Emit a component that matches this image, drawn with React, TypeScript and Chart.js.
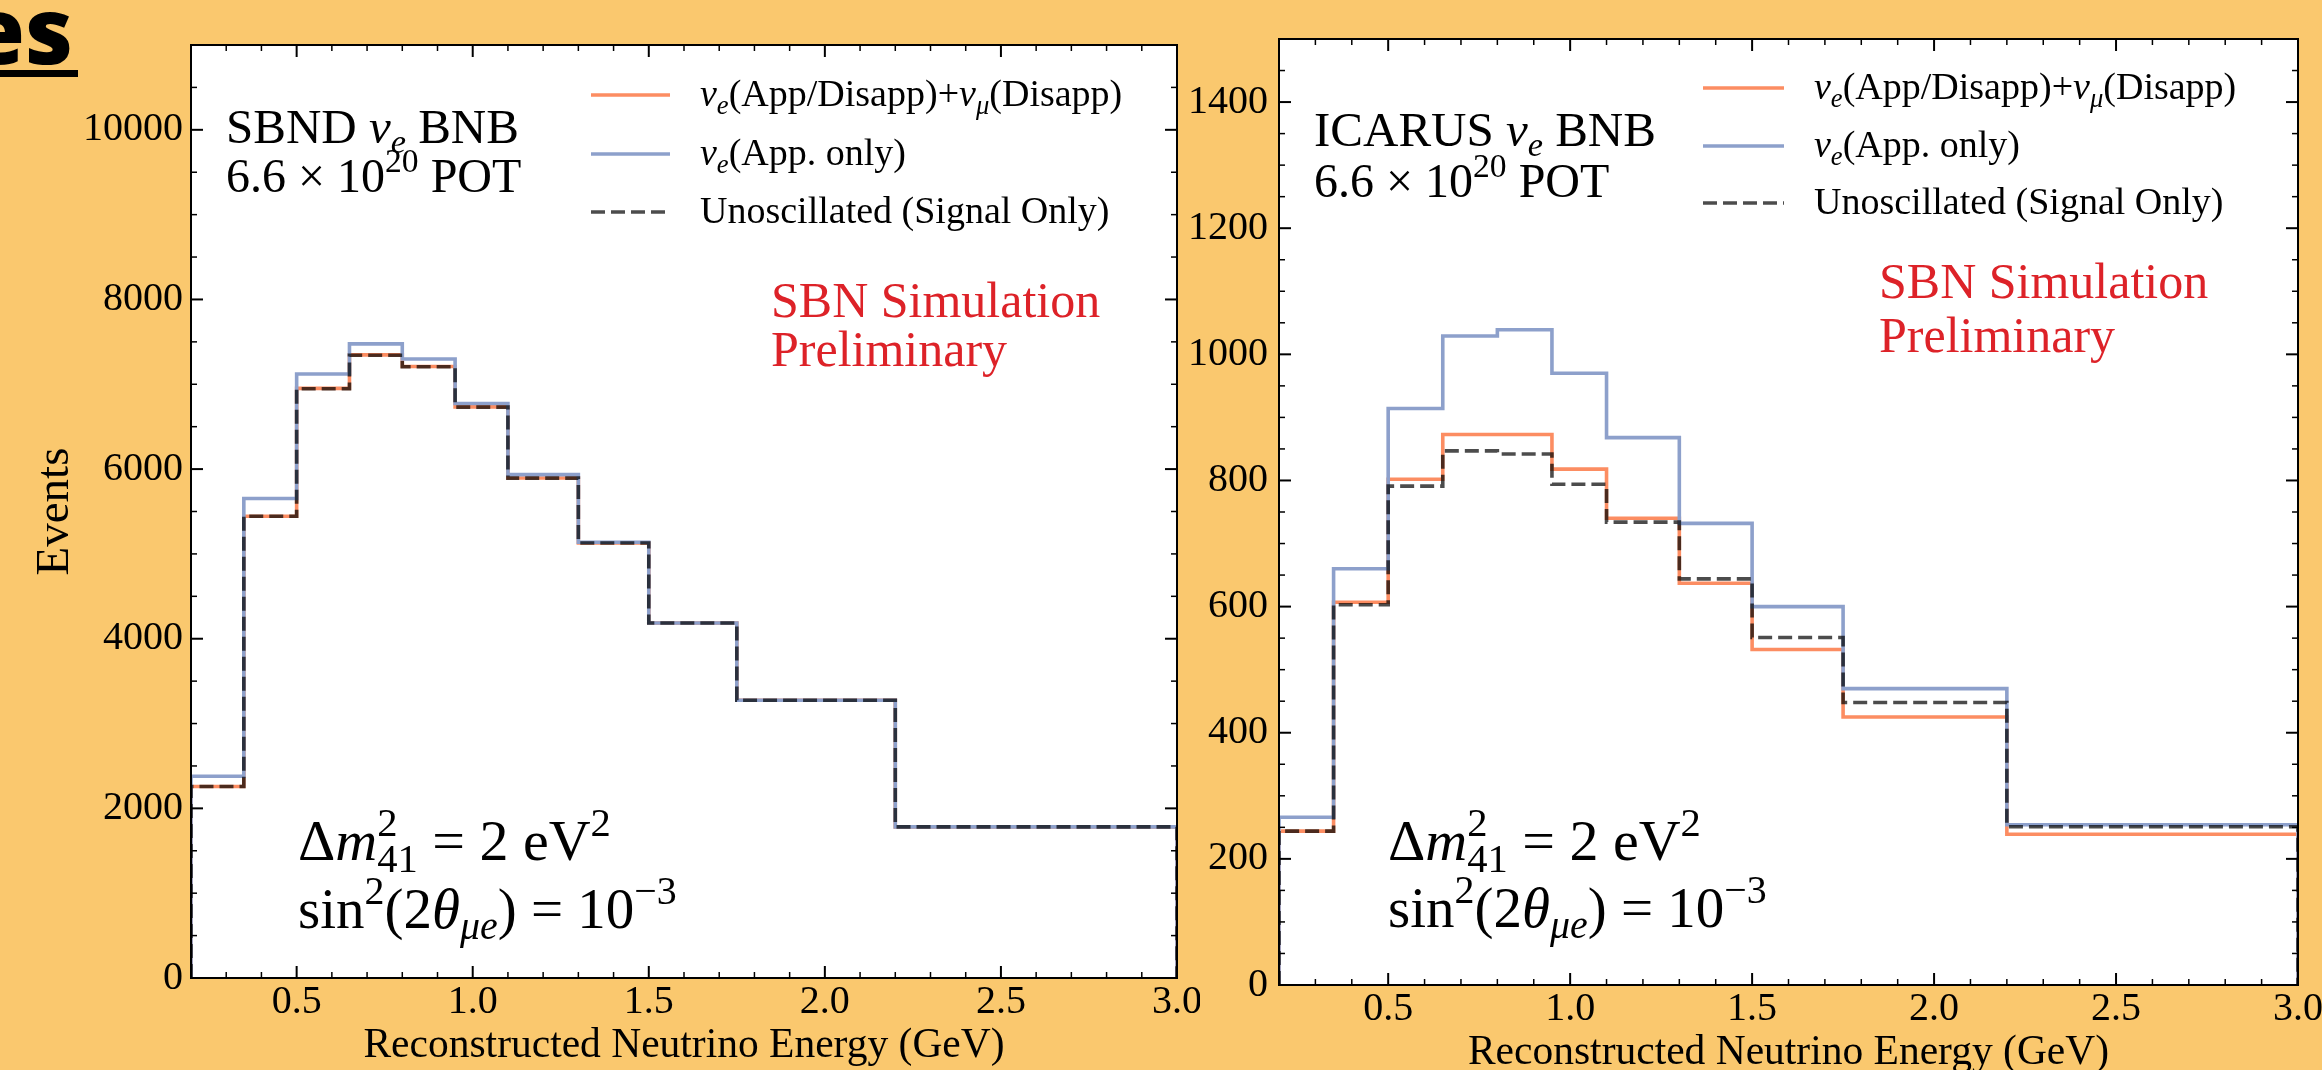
import React, { useEffect, useRef } from "react";
import { Chart, registerables } from "chart.js";

Chart.register(...registerables);

const FONT = '"Liberation Serif", "Times New Roman", serif';

// ---------------- data ----------------
const binEdges = [0.2, 0.35, 0.5, 0.65, 0.8, 0.95, 1.1, 1.3, 1.5, 1.75, 2.2, 3.0];
const energyTicks = [0.5, 1.0, 1.5, 2.0, 2.5, 3.0];
const sbndYTicks = [0, 2000, 4000, 6000, 8000, 10000];
const icarusYTicks = [0, 200, 400, 600, 800, 1000, 1200, 1400];

const seriesLabels = [
  "|ν|_{|e|}(App/Disapp)+|ν|_{|μ|}(Disapp)",
  "|ν|_{|e|}(App. only)",
  "Unoscillated (Signal Only)",
];

const sbndAppDisapp = [2258, 5444, 6952, 7347, 7210, 6734, 5895, 5129, 4185, 3274, 1782];
const sbndAppOnly = [2379, 5653, 7121, 7476, 7298, 6774, 5935, 5137, 4185, 3274, 1782];
const sbndUnosc = [2258, 5444, 6948, 7343, 7207, 6731, 5893, 5128, 4185, 3274, 1782];

const icarusAppDisapp = [244, 607, 802, 873, 873, 818, 740, 637, 532, 425, 239];
const icarusAppOnly = [266, 660, 914, 1029, 1039, 970, 868, 732, 600, 470, 254];
const icarusUnosc = [244, 603, 791, 847, 842, 794, 734, 644, 551, 448, 251];

// ---------------- helpers ----------------
function stepPoints(edges: number[], vals: number[]) {
  const pts = [{ x: edges[0], y: 0 }];
  vals.forEach((v, i) => pts.push({ x: edges[i], y: v }));
  pts.push({ x: edges[edges.length - 1], y: vals[vals.length - 1] });
  pts.push({ x: edges[edges.length - 1], y: 0 });
  return pts;
}

type Seg = { text: string; italic: boolean; level: number };

function parseRich(s: string): Seg[] {
  const segs: Seg[] = [];
  let italic = false;
  let level = 0;
  let buf = "";
  const flush = () => {
    if (buf) segs.push({ text: buf, italic, level });
    buf = "";
  };
  let i = 0;
  while (i < s.length) {
    const c = s[i];
    if ((c === "_" || c === "^") && s[i + 1] === "{") {
      flush();
      level = c === "_" ? -1 : 1;
      i += 2;
      continue;
    }
    if (c === "}" && level !== 0) {
      flush();
      level = 0;
      i++;
      continue;
    }
    if (c === "|") {
      flush();
      italic = !italic;
      i++;
      continue;
    }
    buf += c;
    i++;
  }
  flush();
  return segs;
}

function drawRich(ctx: CanvasRenderingContext2D, markup: string, x: number, y: number, size: number, color: string) {
  const segs = parseRich(markup);
  ctx.save();
  ctx.fillStyle = color;
  ctx.textBaseline = "alphabetic";
  ctx.textAlign = "left";
  let cx = x;
  let prev: Seg | null = null;
  let supStart = 0;
  let supW = 0;
  for (const s of segs) {
    const fs = s.level === 0 ? size : size * 0.7;
    ctx.font = `${s.italic ? "italic " : ""}${fs}px ${FONT}`;
    const w = ctx.measureText(s.text).width;
    const dy = s.level === 1 ? -0.42 * size : s.level === -1 ? 0.2 * size : 0;
    const stacked = s.level === -1 && prev && prev.level === 1;
    const sx = stacked ? supStart : cx;
    ctx.fillText(s.text, sx, y + dy);
    if (s.level === 1) {
      supStart = cx;
      supW = w;
      cx += w;
    } else if (stacked) {
      cx = supStart + Math.max(supW, w);
    } else {
      cx += w;
    }
    prev = s;
  }
  ctx.restore();
}

type Ann = { text: string; dx: number; dy: number; size: number; color?: string };

type PanelCfg = {
  canvasX: number;
  canvasW: number;
  canvasH: number;
  padTop: number;
  padRight: number;
  yAxisW: number;
  xAxisH: number;
  yMax: number;
  yTicks: number[];
  yMinorStep: number;
  yTickPad: number;
  yTitle: string | null;
  xTitlePadBottom: number;
  series: number[][];
  annotations: Ann[];
  legend: { x0: number; x1: number; tx: number; rows: number[]; size: number };
};

const seriesStyles = [
  { color: "#fc8d62", dash: [] as number[], order: 2 },
  { color: "#8da0cb", dash: [] as number[], order: 1 },
  { color: "rgba(0,0,0,0.7)", dash: [14, 6], order: 0 },
];
const LINE_W = 3.6;

function makeDecor(cfg: PanelCfg) {
  return {
    id: "decor",
    beforeDraw(chart: any) {
      const { ctx, chartArea: a } = chart;
      ctx.save();
      ctx.fillStyle = "#ffffff";
      ctx.fillRect(a.left, a.top, a.right - a.left, a.bottom - a.top);
      ctx.restore();
    },
    afterDatasetsDraw(chart: any) {
      const { ctx, chartArea: a } = chart;
      const xs = chart.scales.x;
      const ys = chart.scales.y;
      const MAJ = 12;
      const MIN = 6;
      ctx.save();
      ctx.strokeStyle = "#000";
      const seg = (x1: number, y1: number, x2: number, y2: number) => {
        ctx.beginPath();
        ctx.moveTo(x1, y1);
        ctx.lineTo(x2, y2);
        ctx.stroke();
      };
      // x ticks
      ctx.lineWidth = 2;
      for (const v of energyTicks) {
        const p = xs.getPixelForValue(v);
        seg(p, a.bottom, p, a.bottom - MAJ);
        seg(p, a.top, p, a.top + MAJ);
      }
      ctx.lineWidth = 1.5;
      for (let k = Math.round(xs.min * 10); k <= Math.round(xs.max * 10); k++) {
        if (k % 5 === 0) continue;
        const p = xs.getPixelForValue(k / 10);
        seg(p, a.bottom, p, a.bottom - MIN);
        seg(p, a.top, p, a.top + MIN);
      }
      // y ticks
      ctx.lineWidth = 2;
      for (const v of cfg.yTicks) {
        const p = ys.getPixelForValue(v);
        seg(a.left, p, a.left + MAJ, p);
        seg(a.right, p, a.right - MAJ, p);
      }
      ctx.lineWidth = 1.5;
      const majorStep = cfg.yTicks[1] - cfg.yTicks[0];
      for (let v = 0; v <= ys.max + 1e-9; v += cfg.yMinorStep) {
        if (Math.abs(v / majorStep - Math.round(v / majorStep)) < 1e-6) continue;
        const p = ys.getPixelForValue(v);
        seg(a.left, p, a.left + MIN, p);
        seg(a.right, p, a.right - MIN, p);
      }
      // frame
      ctx.lineWidth = 2;
      ctx.strokeRect(a.left, a.top, a.right - a.left, a.bottom - a.top);
      ctx.restore();
    },
    afterDraw(chart: any) {
      const { ctx, chartArea: a } = chart;
      for (const an of cfg.annotations) {
        drawRich(ctx, an.text, a.left + an.dx, a.top + an.dy, an.size, an.color || "#000");
      }
      const lg = cfg.legend;
      chart.data.datasets.forEach((ds: any, i: number) => {
        const y = a.top + lg.rows[i];
        ctx.save();
        ctx.strokeStyle = ds.borderColor;
        ctx.lineWidth = ds.borderWidth;
        ctx.setLineDash(ds.borderDash || []);
        ctx.beginPath();
        ctx.moveTo(a.left + lg.x0, y);
        ctx.lineTo(a.left + lg.x1, y);
        ctx.stroke();
        ctx.restore();
        drawRich(ctx, ds.label, a.left + lg.tx, y + 0.3 * lg.size, lg.size, "#000");
      });
    },
  };
}

function Panel({ cfg }: { cfg: PanelCfg }) {
  const ref = useRef<HTMLCanvasElement>(null);
  useEffect(() => {
    const canvas = ref.current!;
    const datasets = cfg.series.map((vals, i) => ({
      label: seriesLabels[i],
      data: stepPoints(binEdges, vals),
      borderColor: seriesStyles[i].color,
      borderDash: seriesStyles[i].dash,
      borderWidth: LINE_W,
      order: seriesStyles[i].order,
      stepped: "before" as const,
      pointRadius: 0,
      fill: false,
      tension: 0,
      borderJoinStyle: "miter" as const,
    }));
    const chart = new Chart(canvas, {
      type: "line",
      data: { datasets },
      options: {
        animation: false,
        responsive: false,
        devicePixelRatio: 1,
        layout: { padding: { left: 0, top: cfg.padTop, right: cfg.padRight, bottom: 0 } },
        plugins: { legend: { display: false }, tooltip: { enabled: false } },
        scales: {
          x: {
            type: "linear",
            min: binEdges[0],
            max: binEdges[binEdges.length - 1],
            grid: { display: false, drawTicks: false },
            border: { display: false },
            afterBuildTicks: (s: any) => {
              s.ticks = energyTicks.map((v) => ({ value: v }));
            },
            afterFit: (s: any) => {
              s.height = cfg.xAxisH;
              s.paddingLeft = 0;
              s.paddingRight = 0;
            },
            ticks: {
              color: "#000",
              font: { family: FONT, size: 40 },
              padding: 0,
              maxRotation: 0,
              autoSkip: false,
              callback: (v: any) => Number(v).toFixed(1),
            },
            title: {
              display: true,
              text: "Reconstructed Neutrino Energy (GeV)",
              color: "#000",
              font: { family: FONT, size: 41.5 },
              padding: { top: 0, bottom: cfg.xTitlePadBottom },
            },
          },
          y: {
            type: "linear",
            min: 0,
            max: cfg.yMax,
            grid: { display: false, drawTicks: false },
            border: { display: false },
            afterBuildTicks: (s: any) => {
              s.ticks = cfg.yTicks.map((v) => ({ value: v }));
            },
            afterFit: (s: any) => {
              s.width = cfg.yAxisW;
              s.paddingTop = 0;
              s.paddingBottom = 0;
            },
            ticks: {
              color: "#000",
              font: { family: FONT, size: 40 },
              padding: cfg.yTickPad,
              autoSkip: false,
              callback: (v: any) => String(v),
            },
            title: {
              display: !!cfg.yTitle,
              text: cfg.yTitle || "",
              color: "#000",
              font: { family: FONT, size: 47 },
              padding: { top: 27, bottom: 0 },
            },
          },
        },
      },
      plugins: [makeDecor(cfg)],
    } as any);
    return () => chart.destroy();
  }, []);
  return (
    <canvas
      ref={ref}
      width={cfg.canvasW}
      height={cfg.canvasH}
      style={{ position: "absolute", left: cfg.canvasX, top: 0, width: cfg.canvasW, height: cfg.canvasH }}
    />
  );
}

const sbndCfg: PanelCfg = {
  canvasX: 0,
  canvasW: 1200,
  canvasH: 1090,
  padTop: 45,
  padRight: 23,
  yAxisW: 191,
  xAxisH: 112,
  yMax: 11000,
  yTicks: sbndYTicks,
  yMinorStep: 500,
  yTickPad: 8,
  yTitle: "Events",
  xTitlePadBottom: 19,
  series: [sbndAppDisapp, sbndAppOnly, sbndUnosc],
  annotations: [
    { text: "SBND |ν|_{|e|} BNB", dx: 35, dy: 98, size: 49 },
    { text: "6.6 × 10^{20} POT", dx: 35, dy: 147, size: 48 },
    { text: "SBN Simulation", dx: 580, dy: 272, size: 50, color: "#dd2228" },
    { text: "Preliminary", dx: 580, dy: 321, size: 50, color: "#dd2228" },
    { text: "Δ|m|^{2}_{41} = 2 eV^{2}", dx: 107, dy: 815, size: 58 },
    { text: "sin^{2}(2|θ|_{|μe|}) = 10^{−3}", dx: 107, dy: 883, size: 57 },
  ],
  legend: { x0: 400, x1: 479, tx: 509, rows: [50, 109, 167], size: 38 },
};

const icarusCfg: PanelCfg = {
  canvasX: 1180,
  canvasW: 1142,
  canvasH: 1090,
  padTop: 39,
  padRight: 24,
  yAxisW: 99,
  xAxisH: 105,
  yMax: 1500,
  yTicks: icarusYTicks,
  yMinorStep: 50,
  yTickPad: 11,
  yTitle: null,
  xTitlePadBottom: 12,
  series: [icarusAppDisapp, icarusAppOnly, icarusUnosc],
  annotations: [
    { text: "ICARUS |ν|_{|e|} BNB", dx: 35, dy: 107, size: 49 },
    { text: "6.6 × 10^{20} POT", dx: 35, dy: 158, size: 48 },
    { text: "SBN Simulation", dx: 600, dy: 259, size: 50, color: "#dd2228" },
    { text: "Preliminary", dx: 600, dy: 313, size: 50, color: "#dd2228" },
    { text: "Δ|m|^{2}_{41} = 2 eV^{2}", dx: 109, dy: 821, size: 58 },
    { text: "sin^{2}(2|θ|_{|μe|}) = 10^{−3}", dx: 109, dy: 888, size: 57 },
  ],
  legend: { x0: 424, x1: 505, tx: 535, rows: [49, 107, 164], size: 38 },
};

export default function App() {
  return (
    <div
      style={{
        position: "fixed",
        left: 0,
        top: 0,
        width: 2322,
        height: 1070,
        overflow: "hidden",
        background: "#fac86e",
      }}
    >
      <div
        style={{
          position: "absolute",
          right: 2322 - 73,
          top: -18,
          fontFamily: '"Open Sans", sans-serif',
          fontWeight: 800,
          fontSize: 93,
          lineHeight: "93px",
          color: "#000",
          whiteSpace: "nowrap",
        }}
      >
        es
      </div>
      <div style={{ position: "absolute", left: 0, top: 70, width: 78, height: 7, background: "#000" }} />
      <Panel cfg={sbndCfg} />
      <Panel cfg={icarusCfg} />
    </div>
  );
}
